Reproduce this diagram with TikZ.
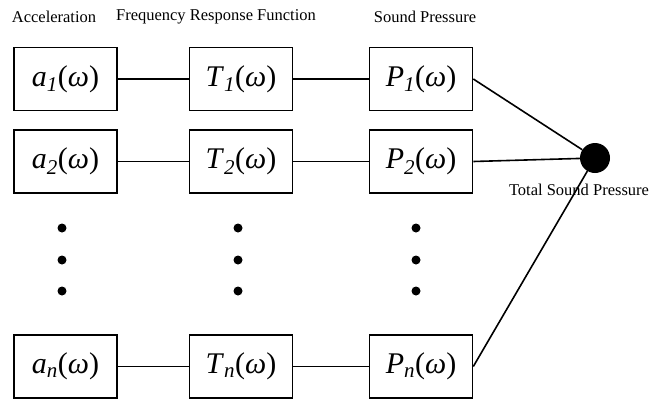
\documentclass[tikz,border=0pt]{standalone}
\usepackage{fontspec}
\setmainfont{Liberation Serif}
\usepackage{tikz}

\begin{document}
\begin{tikzpicture}[x=1pt,y=1pt,
  blk/.style={draw=black, line width=1.6pt, fill=white, minimum width=103pt, minimum height=63pt, inner sep=0pt, font=\fontsize{30}{32}\selectfont},
  wire/.style={black, line width=1.6pt},
  hdr/.style={text=black, font=\fontsize{16.5}{18}\selectfont}]
  \useasboundingbox (0,0) rectangle (656,-399);

  \node[hdr] (hacc) at (54,-17) {Acceleration};
  \node[hdr] (hfrf) at (216,-17) {Frequency Response Function};
  \node[hdr] (hsp) at (425,-17) {Sound Pressure};

  \node[blk] (a1) at (65.5,-79) {\textit{a}\textsubscript{\itshape 1}(\textit{ω})};
  \node[blk] (t1) at (241,-79) {\textit{T}\textsubscript{\itshape 1}(\textit{ω})};
  \node[blk] (p1) at (421,-79) {\textit{P}\textsubscript{\itshape 1}(\textit{ω})};

  \node[blk] (a2) at (65.5,-161.5) {\textit{a}\textsubscript{\itshape 2}(\textit{ω})};
  \node[blk] (t2) at (241,-161.5) {\textit{T}\textsubscript{\itshape 2}(\textit{ω})};
  \node[blk] (p2) at (421,-161.5) {\textit{P}\textsubscript{\itshape 2}(\textit{ω})};

  \node[blk] (an) at (65.5,-366.5) {\textit{a}\textsubscript{\itshape n}(\textit{ω})};
  \node[blk] (tn) at (241,-366.5) {\textit{T}\textsubscript{\itshape n}(\textit{ω})};
  \node[blk] (pn) at (421,-366.5) {\textit{P}\textsubscript{\itshape n}(\textit{ω})};

  \fill (62,-228) circle (4.5);
  \fill (62,-260) circle (4.5);
  \fill (62,-291) circle (4.5);
  \fill (238,-228) circle (4.5);
  \fill (238,-260) circle (4.5);
  \fill (238,-291) circle (4.5);
  \fill (416,-228) circle (4.5);
  \fill (416,-260) circle (4.5);
  \fill (416,-291) circle (4.5);

  \node[hdr] (htot) at (579,-190) {Total Sound Pressure};
  \node[circle, fill=black, minimum size=30pt, inner sep=0pt] (sum) at (595,-158) {};

  \draw[wire] (a1) -- (t1);
  \draw[wire] (t1) -- (p1);
  \draw[wire] (a2) -- (t2);
  \draw[wire] (t2) -- (p2);
  \draw[wire] (an) -- (tn);
  \draw[wire] (tn) -- (pn);

  \draw[wire] (p1.east) -- (sum);
  \draw[wire] (p2.east) -- (sum);
  \draw[wire] (pn.east) -- (sum);
\end{tikzpicture}
\end{document}
